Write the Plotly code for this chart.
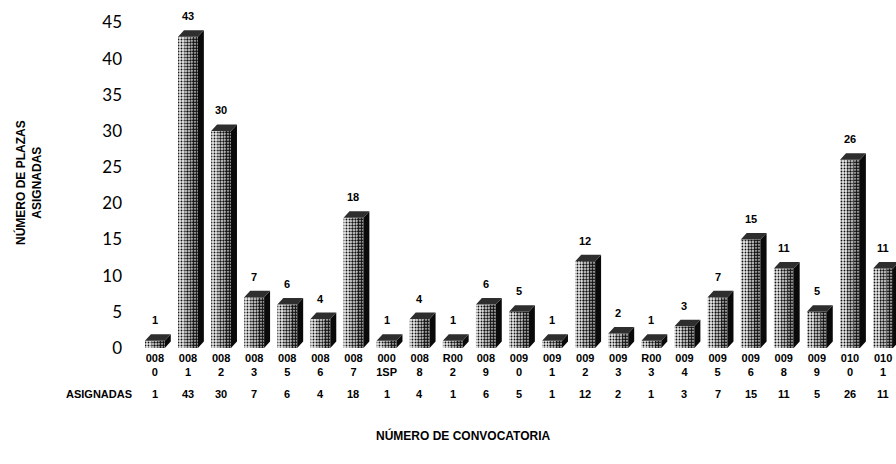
import plotly.graph_objects as go

# Convocatorias y plazas asignadas
convocatorias = ["008<br>0", "008<br>1", "008<br>2", "008<br>3", "008<br>5", "008<br>6",
                 "008<br>7", "000<br>1SP", "008<br>8", "R00<br>2", "008<br>9", "009<br>0",
                 "009<br>1", "009<br>2", "009<br>3", "R00<br>3", "009<br>4", "009<br>5",
                 "009<br>6", "009<br>8", "009<br>9", "010<br>0", "010<br>1"]
asignadas = [1, 43, 30, 7, 6, 4, 18, 1, 4, 1, 6, 5, 1, 12, 2, 1, 3, 7, 15, 11, 5, 26, 11]
y_ticks = [0, 5, 10, 15, 20, 25, 30, 35, 40, 45]

W, H = 896, 464
ML, MR, MT, MB = 138, 0, 5, 116
PW, PH = W - ML - MR, H - MT - MB

YMAX = 47.4
XMIN, XMAX = -0.51, 22.39

def paper_x(px):
    return (px - ML) / PW

def paper_y(py):
    return (H - MB - py) / PH

# 3D look: front face half-width, depth offset (x) and rise (y)
HW = 0.30
DX = 0.18
DY = 0.9
idx = list(range(len(asignadas)))
BOLD = "Liberation Sans"

fig = go.Figure()

# front face drawn as three stippled strips, light on the left, darker to the right
strips = [(-HW, 0.20, 0.30), (-HW + 0.20, 0.20, 0.50), (-HW + 0.40, 0.20, 0.72)]
for off, wid, sol in strips:
    fig.add_trace(go.Bar(
        x=idx, y=asignadas, width=wid, offset=off,
        marker=dict(color="#000000", line=dict(width=0),
                    pattern=dict(shape=".", fgcolor="#111111", bgcolor="#e8e8e8",
                                 size=3, solidity=sol, fillmode="replace")),
        hoverinfo="skip", showlegend=False))

# side faces
sx, sy = [], []
for i, v in zip(idx, asignadas):
    xr = i + HW
    sx += [xr, xr + DX, xr + DX, xr, xr, None]
    sy += [0, DY, v + DY, v, 0, None]
fig.add_trace(go.Scatter(x=sx, y=sy, mode="lines", fill="toself",
                         fillcolor="#0a0a0a", line=dict(width=0, color="#0a0a0a"),
                         hoverinfo="skip", showlegend=False))

# top faces
tx, ty = [], []
for i, v in zip(idx, asignadas):
    xl, xr = i - HW, i + HW
    tx += [xl, xr, xr + DX, xl + DX, xl, None]
    ty += [v, v, v + DY, v + DY, v, None]
fig.add_trace(go.Scatter(x=tx, y=ty, mode="lines", fill="toself",
                         fillcolor="#2e2e2e", line=dict(width=0, color="#2e2e2e"),
                         hoverinfo="skip", showlegend=False))

annotations = []
# value labels above bars
for i, v in zip(idx, asignadas):
    annotations.append(dict(x=i, y=v + DY, xref="x", yref="y", text=str(v),
                            showarrow=False, yanchor="bottom", yshift=6,
                            font=dict(family=BOLD, size=11, color="#000", weight=700)))
# data table row
for i, v in zip(idx, asignadas):
    annotations.append(dict(x=i, y=paper_y(394), xref="x", yref="paper", text=str(v),
                            showarrow=False, yanchor="middle",
                            font=dict(family=BOLD, size=11, color="#000", weight=700)))
annotations.append(dict(x=paper_x(134), y=paper_y(394), xref="paper", yref="paper",
                        text="ASIGNADAS", showarrow=False, xanchor="right", yanchor="middle",
                        font=dict(family=BOLD, size=11, color="#000", weight=700)))
# axis titles
annotations.append(dict(x=paper_x(28), y=paper_y(183), xref="paper", yref="paper",
                        text="NÚMERO DE PLAZAS<br>ASIGNADAS", textangle=-90, showarrow=False,
                        xanchor="center", yanchor="middle",
                        font=dict(family=BOLD, size=12, color="#000", weight=700)))
annotations.append(dict(x=paper_x(463), y=paper_y(435), xref="paper", yref="paper",
                        text="NÚMERO DE CONVOCATORIA", showarrow=False,
                        xanchor="center", yanchor="middle",
                        font=dict(family=BOLD, size=12, color="#000", weight=700)))

fig.update_layout(
    width=W, height=H,
    margin=dict(l=ML, r=MR, t=MT, b=MB),
    paper_bgcolor="white", plot_bgcolor="white",
    barmode="overlay",
    annotations=annotations,
    xaxis=dict(range=[XMIN, XMAX], tickvals=idx, ticktext=convocatorias,
               showgrid=False, zeroline=False, showline=False, ticks="",
               tickfont=dict(family=BOLD, size=11, color="#000", weight=700),
               ticklabelstandoff=2, fixedrange=True),
    yaxis=dict(range=[0, YMAX], tickvals=y_ticks, showgrid=False, zeroline=False,
               showline=False, ticks="", ticklabelstandoff=15,
               tickfont=dict(family="Lato", size=17, color="#000"), fixedrange=True),
)

fig.write_html("out.html")
